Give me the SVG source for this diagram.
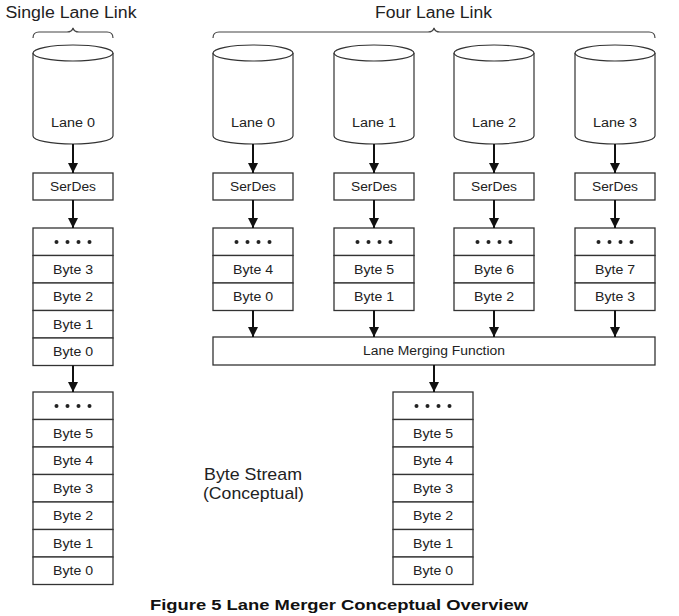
<svg xmlns="http://www.w3.org/2000/svg" width="679" height="616" viewBox="0 0 679 616">
<defs>
<style>
.box{fill:#fff;stroke:#333;stroke-width:1.3}
.cyl{fill:#fff;stroke:#333;stroke-width:1.2}
.brace{fill:none;stroke:#444;stroke-width:1.2}
.lbl{font-family:"Liberation Sans",Arial,sans-serif;font-size:12px;fill:#222;text-anchor:middle}
.title{font-family:"Liberation Sans",Arial,sans-serif;font-size:16px;fill:#222;text-anchor:middle}
.cap{font-family:"Liberation Sans",Arial,sans-serif;font-size:15px;font-weight:bold;fill:#111;text-anchor:middle}
.note{font-family:"Liberation Sans",Arial,sans-serif;font-size:17px;fill:#222}
.arr{stroke:#111;stroke-width:2;fill:none;marker-end:url(#ah)}
.dot{fill:#222}
</style>
<marker id="ah" viewBox="0 0 10 10" refX="10" refY="5" markerWidth="5.5" markerHeight="5" markerUnits="strokeWidth" orient="auto">
<path d="M0,0 L10,5 L0,10 z" fill="#111"/>
</marker>
<g id="dots">
<circle class="dot" cx="-16.5" cy="0" r="2"/>
<circle class="dot" cx="-5.5" cy="0" r="2"/>
<circle class="dot" cx="5.5" cy="0" r="2"/>
<circle class="dot" cx="16.5" cy="0" r="2"/>
</g>
</defs>
<rect width="679" height="616" fill="#fff"/>

<!-- Titles and braces -->
<g id="single-title">
<text class="title" x="71" y="18" textLength="131" lengthAdjust="spacingAndGlyphs">Single Lane Link</text>
<path class="brace" d="M33,38 Q33,32 39,32 L67,32 Q72,32 73,28 Q74,32 79,32 L107,32 Q113,32 113,38"/>
</g>
<g id="four-title">
<text class="title" x="433.5" y="18" textLength="117" lengthAdjust="spacingAndGlyphs">Four Lane Link</text>
<path class="brace" d="M213,38 Q213,32 219,32 L428,32 Q433,32 434,28 Q435,32 440,32 L649,32 Q655,32 655,38"/>
</g>

<!-- Cylinders -->
<g id="cyl-single">
<path class="cyl" d="M33,53 L33,136 A40,8 0 0 0 113,136 L113,53"/>
<ellipse class="cyl" cx="73" cy="53" rx="40" ry="8"/>
<text class="lbl" x="73" y="127" textLength="44" lengthAdjust="spacingAndGlyphs">Lane 0</text>
</g>
<g id="cyl-lane0">
<path class="cyl" d="M213,53 L213,136 A40,8 0 0 0 293,136 L293,53"/>
<ellipse class="cyl" cx="253" cy="53" rx="40" ry="8"/>
<text class="lbl" x="253" y="127" textLength="44" lengthAdjust="spacingAndGlyphs">Lane 0</text>
</g>
<g id="cyl-lane1">
<path class="cyl" d="M334,53 L334,136 A40,8 0 0 0 414,136 L414,53"/>
<ellipse class="cyl" cx="374" cy="53" rx="40" ry="8"/>
<text class="lbl" x="374" y="127" textLength="44" lengthAdjust="spacingAndGlyphs">Lane 1</text>
</g>
<g id="cyl-lane2">
<path class="cyl" d="M454,53 L454,136 A40,8 0 0 0 534,136 L534,53"/>
<ellipse class="cyl" cx="494" cy="53" rx="40" ry="8"/>
<text class="lbl" x="494" y="127" textLength="44" lengthAdjust="spacingAndGlyphs">Lane 2</text>
</g>
<g id="cyl-lane3">
<path class="cyl" d="M575,53 L575,136 A40,8 0 0 0 655,136 L655,53"/>
<ellipse class="cyl" cx="615" cy="53" rx="40" ry="8"/>
<text class="lbl" x="615" y="127" textLength="44" lengthAdjust="spacingAndGlyphs">Lane 3</text>
</g>

<!-- SerDes -->
<g id="serdes-single"><rect class="box" x="33" y="173" width="80" height="27"/><text class="lbl" x="73" y="190.5" textLength="46" lengthAdjust="spacingAndGlyphs">SerDes</text></g>
<g id="serdes-0"><rect class="box" x="213" y="173" width="80" height="27"/><text class="lbl" x="253" y="190.5" textLength="46" lengthAdjust="spacingAndGlyphs">SerDes</text></g>
<g id="serdes-1"><rect class="box" x="334" y="173" width="80" height="27"/><text class="lbl" x="374" y="190.5" textLength="46" lengthAdjust="spacingAndGlyphs">SerDes</text></g>
<g id="serdes-2"><rect class="box" x="454" y="173" width="80" height="27"/><text class="lbl" x="494" y="190.5" textLength="46" lengthAdjust="spacingAndGlyphs">SerDes</text></g>
<g id="serdes-3"><rect class="box" x="575" y="173" width="80" height="27"/><text class="lbl" x="615" y="190.5" textLength="46" lengthAdjust="spacingAndGlyphs">SerDes</text></g>

<!-- Single lane buffer -->
<g id="buf-single">
<rect class="box" x="33" y="228" width="80" height="27.5"/>
<use href="#dots" x="73" y="242"/>
<rect class="box" x="33" y="255.5" width="80" height="27.5"/>
<text class="lbl" x="73" y="273.5" textLength="40" lengthAdjust="spacingAndGlyphs">Byte 3</text>
<rect class="box" x="33" y="283" width="80" height="27.5"/>
<text class="lbl" x="73" y="301" textLength="40" lengthAdjust="spacingAndGlyphs">Byte 2</text>
<rect class="box" x="33" y="310.5" width="80" height="27.5"/>
<text class="lbl" x="73" y="328.5" textLength="40" lengthAdjust="spacingAndGlyphs">Byte 1</text>
<rect class="box" x="33" y="338" width="80" height="27.5"/>
<text class="lbl" x="73" y="356" textLength="40" lengthAdjust="spacingAndGlyphs">Byte 0</text>
</g>

<!-- Four lane buffers -->
<g id="buf-0">
<rect class="box" x="213" y="228" width="80" height="27.5"/><use href="#dots" x="253" y="242"/>
<rect class="box" x="213" y="255.5" width="80" height="27.5"/><text class="lbl" x="253" y="273.5" textLength="40" lengthAdjust="spacingAndGlyphs">Byte 4</text>
<rect class="box" x="213" y="283" width="80" height="27.5"/><text class="lbl" x="253" y="301" textLength="40" lengthAdjust="spacingAndGlyphs">Byte 0</text>
</g>
<g id="buf-1">
<rect class="box" x="334" y="228" width="80" height="27.5"/><use href="#dots" x="374" y="242"/>
<rect class="box" x="334" y="255.5" width="80" height="27.5"/><text class="lbl" x="374" y="273.5" textLength="40" lengthAdjust="spacingAndGlyphs">Byte 5</text>
<rect class="box" x="334" y="283" width="80" height="27.5"/><text class="lbl" x="374" y="301" textLength="40" lengthAdjust="spacingAndGlyphs">Byte 1</text>
</g>
<g id="buf-2">
<rect class="box" x="454" y="228" width="80" height="27.5"/><use href="#dots" x="494" y="242"/>
<rect class="box" x="454" y="255.5" width="80" height="27.5"/><text class="lbl" x="494" y="273.5" textLength="40" lengthAdjust="spacingAndGlyphs">Byte 6</text>
<rect class="box" x="454" y="283" width="80" height="27.5"/><text class="lbl" x="494" y="301" textLength="40" lengthAdjust="spacingAndGlyphs">Byte 2</text>
</g>
<g id="buf-3">
<rect class="box" x="575" y="228" width="80" height="27.5"/><use href="#dots" x="615" y="242"/>
<rect class="box" x="575" y="255.5" width="80" height="27.5"/><text class="lbl" x="615" y="273.5" textLength="40" lengthAdjust="spacingAndGlyphs">Byte 7</text>
<rect class="box" x="575" y="283" width="80" height="27.5"/><text class="lbl" x="615" y="301" textLength="40" lengthAdjust="spacingAndGlyphs">Byte 3</text>
</g>

<!-- Lane merging function -->
<g id="lmf">
<rect class="box" x="213" y="337" width="442" height="28"/>
<text class="lbl" x="434" y="355" textLength="142" lengthAdjust="spacingAndGlyphs">Lane Merging Function</text>
</g>

<!-- Byte streams -->
<g id="stream-single">
<rect class="box" x="33" y="392" width="80" height="27.5"/><use href="#dots" x="73" y="406"/>
<rect class="box" x="33" y="419.5" width="80" height="27.5"/><text class="lbl" x="73" y="437.5" textLength="40" lengthAdjust="spacingAndGlyphs">Byte 5</text>
<rect class="box" x="33" y="447" width="80" height="27.5"/><text class="lbl" x="73" y="465" textLength="40" lengthAdjust="spacingAndGlyphs">Byte 4</text>
<rect class="box" x="33" y="474.5" width="80" height="27.5"/><text class="lbl" x="73" y="492.5" textLength="40" lengthAdjust="spacingAndGlyphs">Byte 3</text>
<rect class="box" x="33" y="502" width="80" height="27.5"/><text class="lbl" x="73" y="520" textLength="40" lengthAdjust="spacingAndGlyphs">Byte 2</text>
<rect class="box" x="33" y="529.5" width="80" height="27.5"/><text class="lbl" x="73" y="547.5" textLength="40" lengthAdjust="spacingAndGlyphs">Byte 1</text>
<rect class="box" x="33" y="557" width="80" height="27.5"/><text class="lbl" x="73" y="575" textLength="40" lengthAdjust="spacingAndGlyphs">Byte 0</text>
</g>
<g id="stream-four">
<rect class="box" x="393" y="392" width="80" height="27.5"/><use href="#dots" x="433" y="406"/>
<rect class="box" x="393" y="419.5" width="80" height="27.5"/><text class="lbl" x="433" y="437.5" textLength="40" lengthAdjust="spacingAndGlyphs">Byte 5</text>
<rect class="box" x="393" y="447" width="80" height="27.5"/><text class="lbl" x="433" y="465" textLength="40" lengthAdjust="spacingAndGlyphs">Byte 4</text>
<rect class="box" x="393" y="474.5" width="80" height="27.5"/><text class="lbl" x="433" y="492.5" textLength="40" lengthAdjust="spacingAndGlyphs">Byte 3</text>
<rect class="box" x="393" y="502" width="80" height="27.5"/><text class="lbl" x="433" y="520" textLength="40" lengthAdjust="spacingAndGlyphs">Byte 2</text>
<rect class="box" x="393" y="529.5" width="80" height="27.5"/><text class="lbl" x="433" y="547.5" textLength="40" lengthAdjust="spacingAndGlyphs">Byte 1</text>
<rect class="box" x="393" y="557" width="80" height="27.5"/><text class="lbl" x="433" y="575" textLength="40" lengthAdjust="spacingAndGlyphs">Byte 0</text>
</g>

<!-- Connectors -->
<g id="connectors">
<line class="arr" x1="73" y1="144" x2="73" y2="173"/>
<line class="arr" x1="253" y1="144" x2="253" y2="173"/>
<line class="arr" x1="374" y1="144" x2="374" y2="173"/>
<line class="arr" x1="494" y1="144" x2="494" y2="173"/>
<line class="arr" x1="615" y1="144" x2="615" y2="173"/>
<line class="arr" x1="73" y1="200" x2="73" y2="228"/>
<line class="arr" x1="253" y1="200" x2="253" y2="228"/>
<line class="arr" x1="374" y1="200" x2="374" y2="228"/>
<line class="arr" x1="494" y1="200" x2="494" y2="228"/>
<line class="arr" x1="615" y1="200" x2="615" y2="228"/>
<line class="arr" x1="73" y1="365.5" x2="73" y2="392"/>
<line class="arr" x1="253" y1="310.5" x2="253" y2="337"/>
<line class="arr" x1="374" y1="310.5" x2="374" y2="337"/>
<line class="arr" x1="494" y1="310.5" x2="494" y2="337"/>
<line class="arr" x1="615" y1="310.5" x2="615" y2="337"/>
<line class="arr" x1="434" y1="365" x2="434" y2="392"/>
</g>

<!-- Notes -->
<g id="note">
<text class="note" x="204" y="480" textLength="98" lengthAdjust="spacingAndGlyphs">Byte Stream</text>
<text class="note" x="203" y="499" textLength="101" lengthAdjust="spacingAndGlyphs">(Conceptual)</text>
</g>
<text class="cap" x="339" y="610" textLength="378" lengthAdjust="spacingAndGlyphs">Figure 5 Lane Merger Conceptual Overview</text>
</svg>
